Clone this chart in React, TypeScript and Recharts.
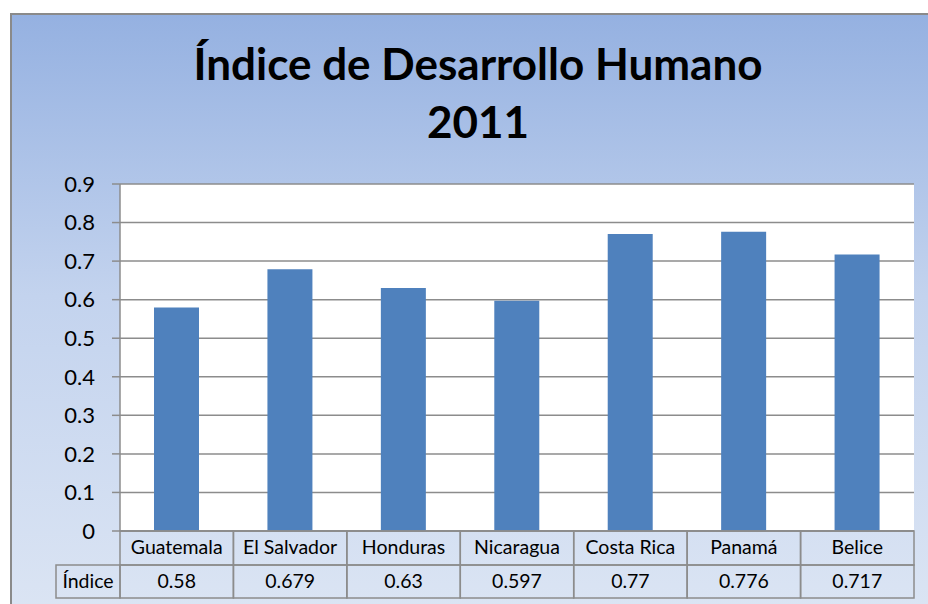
import React from "react";
import { BarChart, Bar, XAxis, YAxis, CartesianGrid } from "recharts";

const categories = ["Guatemala", "El Salvador", "Honduras", "Nicaragua", "Costa Rica", "Panamá", "Belice"];
const indiceValues = [0.58, 0.679, 0.63, 0.597, 0.77, 0.776, 0.717];
const valueLabels = ["0.58", "0.679", "0.63", "0.597", "0.77", "0.776", "0.717"];
const yTicks = [0, 0.1, 0.2, 0.3, 0.4, 0.5, 0.6, 0.7, 0.8, 0.9];
const seriesName = "Índice";
const titleLines = ["Índice de Desarrollo Humano", "2011"];

const data = categories.map((c, i) => ({ name: c, value: indiceValues[i], label: valueLabels[i] }));

const W = 928;
const H = 604;
const MARGIN = { top: 184, right: 14, left: 60, bottom: 5 };
const Y_W = 60;
const X_H = 68;
const PLOT_W = W - MARGIN.left - MARGIN.right - Y_W;
const COL_W = PLOT_W / categories.length;
const ROW1 = 34;
const ROW2 = 33;
const FONT = "Lato, 'Open Sans', sans-serif";
const BORDER = "#8c8c8c";
const TFS = 19.5;

const TableTick = (props: any) => {
  const { x, y, payload, index } = props;
  const left = x - COL_W / 2;
  const d = data[index];
  return (
    <g>
      <rect x={left} y={y} width={COL_W} height={ROW1} fill="none" stroke={BORDER} strokeWidth={1.5} />
      <rect x={left} y={y + ROW1} width={COL_W} height={ROW2} fill="none" stroke={BORDER} strokeWidth={1.5} />
      <text x={x} y={y + 23} textAnchor="middle" fontSize={TFS} fontFamily={FONT} fill="#000">
        {payload.value}
      </text>
      <text x={x} y={y + ROW1 + 23} textAnchor="middle" fontSize={TFS} fontFamily={FONT} fill="#000">
        {d ? d.label : ""}
      </text>
      {index === 0 && (
        <g>
          <rect x={56} y={y + ROW1} width={left - 56} height={ROW2} fill="none" stroke={BORDER} strokeWidth={1.5} />
          <text x={(56 + left) / 2} y={y + ROW1 + 23} textAnchor="middle" fontSize={TFS} fontFamily={FONT} fill="#000">
            {seriesName}
          </text>
        </g>
      )}
    </g>
  );
};

export default function App() {
  return (
    <div style={{ position: "absolute", left: 0, top: 0, width: W, height: H, overflow: "hidden", background: "#fff" }}>
      <div
        style={{
          position: "absolute",
          left: 10,
          top: 13,
          width: W + 20,
          height: H + 20,
          borderTop: "2px solid #8a8a8a",
          borderLeft: "2px solid #8a8a8a",
          background: "linear-gradient(to bottom, #95b1e1 0%, #c3d3ee 45%, #dde6f4 100%)",
        }}
      />
      <div
        style={{
          position: "absolute",
          left: 0,
          top: 34,
          width: 956,
          textAlign: "center",
          fontFamily: FONT,
          fontWeight: 700,
          fontSize: 44,
          lineHeight: "58px",
          color: "#000",
        }}
      >
        {titleLines.map((t) => (
          <div key={t}>{t}</div>
        ))}
      </div>
      <div style={{ position: "absolute", left: 0, top: 0 }}>
        <BarChart width={W} height={H} data={data} margin={MARGIN}>
          <CartesianGrid horizontal={true} vertical={false} fill="#ffffff" stroke="#8c8c8c" strokeWidth={1.5} />
          <XAxis
            dataKey="name"
            height={X_H}
            interval={0}
            tickLine={false}
            tickSize={0}
            tickMargin={0}
            axisLine={{ stroke: "#8c8c8c", strokeWidth: 1.5 }}
            tick={<TableTick />}
          />
          <YAxis
            width={Y_W}
            domain={[0, 0.9]}
            ticks={yTicks}
            interval={0}
            tickSize={8}
            tickMargin={17}
            tickLine={{ stroke: "#8c8c8c", strokeWidth: 1.5 }}
            axisLine={{ stroke: "#8c8c8c", strokeWidth: 1.5 }}
            tick={{ fontSize: 22, fontFamily: FONT, fill: "#000" }}
          />
          <Bar dataKey="value" fill="#4f81bd" barSize={45} isAnimationActive={false} />
        </BarChart>
      </div>
    </div>
  );
}
